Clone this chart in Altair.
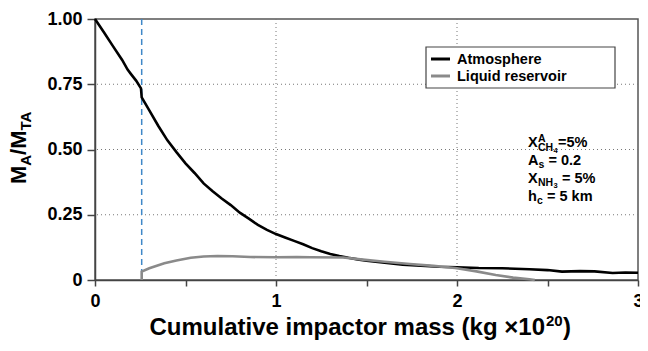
import altair as alt
import pandas as pd

# ---- data ----
atm_x = [0, 0.05, 0.10, 0.15, 0.18, 0.20, 0.227, 0.254, 0.258, 0.30, 0.35, 0.40, 0.45, 0.50,
         0.55, 0.60, 0.65, 0.70, 0.75, 0.80, 0.85, 0.90, 0.95, 1.00, 1.05, 1.10, 1.15, 1.20,
         1.25, 1.30, 1.35, 1.40, 1.45, 1.50, 1.60, 1.70, 1.80, 1.90, 2.00, 2.12, 2.25, 2.40,
         2.50, 2.58, 2.68, 2.76, 2.86, 2.93, 3.0]
atm_y = [1.0, 0.948, 0.895, 0.843, 0.806, 0.788, 0.764, 0.734, 0.700, 0.650, 0.590, 0.535,
         0.490, 0.447, 0.410, 0.370, 0.340, 0.312, 0.287, 0.258, 0.235, 0.211, 0.192, 0.176,
         0.163, 0.150, 0.137, 0.122, 0.110, 0.100, 0.092, 0.085, 0.079, 0.074, 0.066, 0.059,
         0.055, 0.051, 0.049, 0.046, 0.045, 0.041, 0.038, 0.032, 0.034, 0.033, 0.027, 0.029,
         0.028]

liq_x = [0.258, 0.258, 0.30, 0.383, 0.45, 0.529, 0.60, 0.676, 0.76, 0.857, 1.0, 1.115, 1.19,
         1.372, 1.48, 1.60, 1.74, 1.87, 1.99, 2.10, 2.214, 2.31, 2.40, 2.43]
liq_y = [0.0, 0.032, 0.045, 0.064, 0.075, 0.085, 0.090, 0.092, 0.091, 0.088, 0.087, 0.088, 0.087,
         0.086, 0.078, 0.070, 0.061, 0.054, 0.046, 0.034, 0.019, 0.009, 0.003, 0.0]

series_names = ["Atmosphere", "Liquid reservoir"]
series_colors = ["#000000", "#8a8a8a"]

impact_start = [0.258]
x_grid = [1, 2]
y_grid = [0.25, 0.5, 0.75]
x_ticks = [0, 0.5, 1, 1.5, 2, 2.5, 3]
y_ticks = [0, 0.25, 0.5, 0.75, 1.0]

FONT = "Liberation Sans"
W, H = 543, 261

rows = []
for i, (x, y) in enumerate(zip(atm_x, atm_y)):
    rows.append({"x": x, "y": y, "s": series_names[0], "i": i})
for i, (x, y) in enumerate(zip(liq_x, liq_y)):
    rows.append({"x": x, "y": y, "s": series_names[1], "i": i})
df = pd.DataFrame(rows)

xs = alt.Scale(domain=[0, 3], nice=False, zero=False)
ys = alt.Scale(domain=[0, 1], nice=False, zero=False)
cs = alt.Scale(domain=series_names, range=series_colors)

# grid
gx = alt.Chart(pd.DataFrame({"g": x_grid})).mark_rule(
    color="#777", strokeDash=[1, 3], strokeWidth=1).encode(x=alt.X("g:Q", scale=xs))
gy = alt.Chart(pd.DataFrame({"g": y_grid})).mark_rule(
    color="#777", strokeDash=[1, 3], strokeWidth=1).encode(y=alt.Y("g:Q", scale=ys))

# impact start marker
vline = alt.Chart(pd.DataFrame({"v": impact_start})).mark_rule(
    color="#3f88c8", strokeDash=[6, 4], strokeWidth=1.5).encode(x=alt.X("v:Q", scale=xs))

lines = alt.Chart(df).mark_line(strokeWidth=2.6, interpolate="linear").encode(
    x=alt.X("x:Q", scale=xs,
            axis=alt.Axis(values=x_ticks, title=None, grid=False,
                          labelExpr="datum.value % 1 == 0 ? format(datum.value, 'd') : ''",
                          labelFont=FONT, labelFontWeight="bold", labelFontSize=18,
                          labelColor="black", labelPadding=6, labelFlush=False,
                          tickSize=6, tickColor="#444", tickWidth=1.5,
                          domainColor="#444", domainWidth=1.5)),
    y=alt.Y("y:Q", scale=ys,
            axis=alt.Axis(values=y_ticks, title=None, grid=False,
                          labelExpr="datum.value == 0 ? '0' : format(datum.value, '.2f')",
                          labelFont=FONT, labelFontWeight="bold", labelFontSize=18,
                          labelColor="black", labelPadding=5, labelFlush=False,
                          tickSize=8, tickColor="#444", tickWidth=1.5,
                          domainColor="#444", domainWidth=1.5)),
    color=alt.Color("s:N", scale=cs, legend=None),
    order="i:Q",
)

# legend box drawn by hand
leg_box = alt.Chart(pd.DataFrame({"k": [0]})).mark_rect(
    fill="white", stroke="#444", strokeWidth=1.2).encode(
    x=alt.value(331), x2=alt.value(520), y=alt.value(28), y2=alt.value(69))
ldf = pd.DataFrame({"s": series_names, "ly": [40, 57], "ty": [45, 62]})
leg_sym = alt.Chart(ldf).mark_rule(strokeWidth=3).encode(
    x=alt.value(336), x2=alt.value(355), y=alt.Y("ly:Q", scale=None, axis=None),
    color=alt.Color("s:N", scale=cs, legend=None))
leg_txt = alt.Chart(ldf).mark_text(font=FONT, fontWeight="bold", fontSize=14.5,
                                   align="left", baseline="alphabetic", color="black").encode(
    x=alt.value(362), y=alt.Y("ty:Q", scale=None, axis=None), text="s:N")

# text pieces (titles with sub/superscripts and the parameter annotation)
F = 14.5  # annotation font
f = 10.5  # sub/sup font
ff = 7.5  # sub-sub font
ax0 = 433
tx = [
    # y title, rotated
    ("M", -69, 165, 22, 270), ("A", -64, 146.7, 15, 270),
    ("/M", -69, 135.9, 22, 270), ("TA", -64, 111.5, 15, 270),
    # x title tail
    ("20", 451, 307, 15, 0), (")", 468, 316, 24, 0),
    # annotation
    ("X", ax0, 128, F, 0), ("A", ax0 + 10, 122.5, f, 0), ("CH", ax0 + 10, 131.5, f, 0),
    ("4", ax0 + 25.5, 133.5, ff, 0), ("=5%", ax0 + 30, 128, F, 0),
    ("A", ax0, 146, F, 0), ("s", ax0 + 10.5, 149, f, 0), ("= 0.2", ax0 + 20.5, 146, F, 0),
    ("X", ax0, 164, F, 0), ("NH", ax0 + 10, 167, f, 0), ("3", ax0 + 25.5, 169, ff, 0),
    ("= 5%", ax0 + 34, 164, F, 0),
    ("h", ax0, 182, F, 0), ("c", ax0 + 9, 185, f, 0), ("= 5 km", ax0 + 19, 182, F, 0),
]
tdf = pd.DataFrame(tx, columns=["t", "px", "py", "fs", "ang"])
texts = alt.Chart(tdf).mark_text(font=FONT, fontWeight="bold", align="left",
                                 baseline="alphabetic", color="black").encode(
    x=alt.X("px:Q", scale=None, axis=None),
    y=alt.Y("py:Q", scale=None, axis=None),
    text="t:N",
    size=alt.Size("fs:Q", scale=None, legend=None),
    angle=alt.Angle("ang:Q", scale=None),
)

xtitle = alt.Chart(pd.DataFrame({"t": ["Cumulative impactor mass (kg \u00d710"]})).mark_text(
    font=FONT, fontWeight="bold", align="right", baseline="alphabetic", color="black",
    fontSize=24).encode(x=alt.value(450), y=alt.value(316), text="t:N")

chart = alt.layer(gx, gy, vline, lines, leg_box, leg_sym, leg_txt, texts, xtitle).properties(
    width=W, height=H,
    autosize=alt.AutoSizeParams(type="none"),
    padding={"left": 87, "top": 11, "right": 2, "bottom": 60},
).configure_view(stroke="#555", strokeWidth=1.5)

chart.save("out.html", embed_options={"renderer": "svg", "actions": False})
